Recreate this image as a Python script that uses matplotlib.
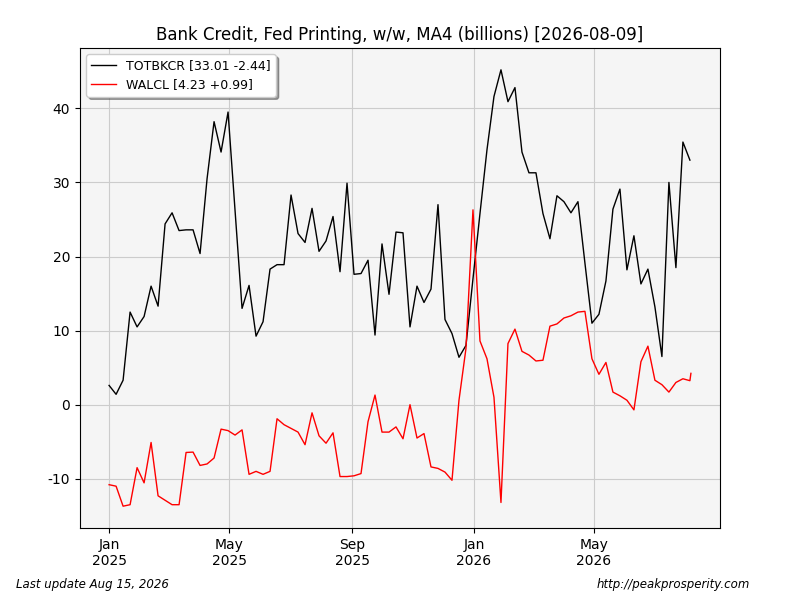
import numpy as np
import pandas as pd
import matplotlib
matplotlib.use("Agg")
import matplotlib.pyplot as plt
import matplotlib.dates as mdates

plt.rcParams["axes.unicode_minus"] = False

# weekly dates (Wednesdays) Jan 2025 -> Aug 2026
dates = pd.date_range("2025-01-01", periods=84, freq="7D")

# TOTBKCR, w/w change MA4 (billions)
totbkcr = [
    2.6, 1.4, 3.3, 12.5, 10.5, 11.9, 16.0, 13.3, 24.4, 25.9,
    23.5, 23.6, 23.6, 20.4, 30.5, 38.2, 34.1, 39.5, 26.2, 13.0,
    16.1, 9.25, 11.2, 18.3, 18.9, 18.9, 28.3, 23.1, 21.9, 26.5,
    20.7, 22.1, 25.4, 17.95, 29.9, 17.6, 17.7, 19.5, 9.4, 21.7,
    14.9, 23.3, 23.2, 10.5, 16.0, 13.8, 15.6, 27.0, 11.5, 9.6,
    6.4, 8.0, 17.0, 25.8, 34.4, 41.6, 45.2, 40.9, 42.8, 34.1,
    31.3, 31.3, 25.8, 22.4, 28.2, 27.4, 25.9, 27.4, 19.1, 11.0,
    12.2, 16.7, 26.4, 29.1, 18.2, 22.8, 16.3, 18.3, 13.2, 6.5,
    30.0, 18.5, 35.45, 33.01,
]

# WALCL, w/w change MA4 (billions); last value is a later partial update
walcl_dates = list(dates) + [dates[-1] + pd.Timedelta(days=1)]
walcl = [
    -10.8, -11.0, -13.7, -13.5, -8.5, -10.55, -5.1, -12.3, -12.9, -13.5,
    -13.5, -6.45, -6.4, -8.2, -8.0, -7.2, -3.3, -3.5, -4.1, -3.4,
    -9.4, -9.0, -9.4, -9.0, -1.9, -2.7, -3.2, -3.7, -5.4, -1.1,
    -4.2, -5.2, -3.8, -9.7, -9.7, -9.6, -9.3, -2.3, 1.3, -3.7,
    -3.7, -3.0, -4.6, 0.0, -4.5, -3.9, -8.4, -8.6, -9.1, -10.2,
    0.6, 7.6, 26.3, 8.6, 6.2, 1.0, -13.2, 8.25, 10.2, 7.2,
    6.7, 5.9, 6.0, 10.6, 10.9, 11.7, 12.0, 12.5, 12.6, 6.2,
    4.1, 5.7, 1.7, 1.2, 0.6, -0.7, 5.8, 7.9, 3.3, 2.7,
    1.7, 3.0, 3.5, 3.24, 4.23,
]

# ticks every 4 months, only inside the data range
tick_dates = [d for d in pd.date_range("2025-01-01", dates[-1], freq="MS")
              if d.month in (1, 5, 9)]

fig = plt.figure(figsize=(8, 6), dpi=100)
ax = fig.add_axes([0.1, 0.12, 0.8, 0.8])
ax.set_facecolor("#f5f5f5")

ax.plot(dates, totbkcr, color="black", lw=1,
        label="TOTBKCR [33.01 -2.44]")
ax.plot(walcl_dates, walcl, color="red", lw=1,
        label="WALCL [4.23 +0.99]")

ax.grid(True, color="#cccccc", lw=0.8)
ax.set_axisbelow(True)

ax.set_xticks(tick_dates)
ax.xaxis.set_major_formatter(mdates.DateFormatter("%b\n%Y"))

ax.set_title("Bank Credit, Fed Printing, w/w, MA4 (billions) [2026-08-09]",
             fontsize=12)
ax.legend(loc="upper left", shadow=True, fontsize=9)

fig.text(0.02, 0.02, "Last update Aug 15, 2026", fontsize=8.5,
         style="italic")
fig.text(0.937, 0.02, "http://peakprosperity.com", fontsize=8.5,
         style="italic", ha="right")

fig.savefig("out.png", dpi=100)
